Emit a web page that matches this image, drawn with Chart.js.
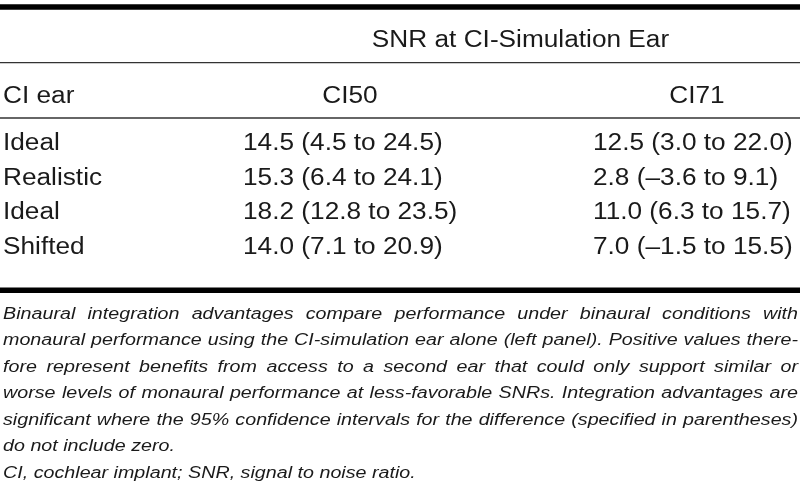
<!DOCTYPE html>
<html>
<head>
<meta charset="utf-8">
<script src="https://cdn.jsdelivr.net/npm/chart.js@4.4.1/dist/chart.umd.min.js"></script>
<style>
  html, body { margin: 0; padding: 0; background: #fff; }
  #wrap { width: 800px; height: 486px; }
</style>
</head>
<body>
<div id="wrap"><canvas id="tableChart" width="800" height="486"></canvas></div>
<script>
// table content
const groupHeader = "SNR at CI-Simulation Ear";
const columnHeaders = ["CI ear", "CI50", "CI71"];
const rowLabels = ["Ideal", "Realistic", "Ideal", "Shifted"];
const ci50Mean = [14.5, 15.3, 18.2, 14.0];
const ci50Low = [4.5, 6.4, 12.8, 7.1];
const ci50High = [24.5, 24.1, 23.5, 20.9];
const ci71Mean = [12.5, 2.8, 11.0, 7.0];
const ci71Low = [3.0, -3.6, 6.3, -1.5];
const ci71High = [22.0, 9.1, 15.7, 15.5];
const noteLines = [
    "Binaural integration advantages compare performance under binaural conditions with",
    "monaural performance using the CI-simulation ear alone (left panel). Positive values there-",
    "fore represent benefits from access to a second ear that could only support similar or",
    "worse levels of monaural performance at less-favorable SNRs. Integration advantages are",
    "significant where the 95% confidence intervals for the difference (specified in parentheses)",
    "do not include zero."
];
const abbrevLine = "CI, cochlear implant; SNR, signal to noise ratio.";

const FONT = '"Liberation Sans", Arial, Helvetica, sans-serif';
const SX = 1.14; // source image is stretched horizontally

function fmt(v) {
    const s = Math.abs(v).toFixed(1);
    return v < 0 ? "\u2013" + s : s;
}

function cell(mean, low, high, i) {
    return fmt(mean[i]) + " (" + fmt(low[i]) + " to " + fmt(high[i]) + ")";
}

function text(ctx, str, x, y, align) {
    ctx.save();
    ctx.translate(x, y);
    ctx.scale(SX, 1);
    ctx.textAlign = align || "left";
    ctx.fillText(str, 0, 0);
    ctx.restore();
}

function justify(ctx, str, x0, x1, y) {
    const words = str.split(" ");
    const widths = words.map(w => ctx.measureText(w).width * SX);
    const total = widths.reduce((a, b) => a + b, 0);
    const gap = (x1 - x0 - total) / (words.length - 1);
    let x = x0;
    words.forEach((w, i) => {
        text(ctx, w, x, y);
        x += widths[i] + gap;
    });
}

function rule(ctx, sx, sy, y, width, color) {
    ctx.save();
    ctx.strokeStyle = color;
    ctx.lineWidth = width;
    ctx.beginPath();
    ctx.moveTo(sx.getPixelForValue(0), sy.getPixelForValue(y));
    ctx.lineTo(sx.getPixelForValue(800), sy.getPixelForValue(y));
    ctx.stroke();
    ctx.restore();
}

const tablePlugin = {
    id: "tablePlugin",
    afterDraw(chart) {
        const ctx = chart.ctx;
        const sx = chart.scales.x;
        const sy = chart.scales.y;
        const px = v => sx.getPixelForValue(v);
        const py = v => sy.getPixelForValue(v);

        ctx.save();
        ctx.fillStyle = "#1a1a1a";
        ctx.textBaseline = "alphabetic";

        rule(ctx, sx, sy, 7, 5.5, "#000");
        rule(ctx, sx, sy, 62.7, 1.3, "#333");
        rule(ctx, sx, sy, 118, 1.3, "#333");
        rule(ctx, sx, sy, 290.2, 5.5, "#000");

        ctx.font = "23px " + FONT;
        text(ctx, groupHeader, px(520.5), py(47.3), "center");
        text(ctx, columnHeaders[0], px(3), py(102.5), "left");
        text(ctx, columnHeaders[1], px(350), py(102.5), "center");
        text(ctx, columnHeaders[2], px(697), py(102.5), "center");

        rowLabels.forEach((lab, i) => {
            const y = py(150.3 + i * 34.5);
            text(ctx, lab, px(3), y, "left");
            text(ctx, cell(ci50Mean, ci50Low, ci50High, i), px(243), y, "left");
            text(ctx, cell(ci71Mean, ci71Low, ci71High, i), px(593), y, "left");
        });

        ctx.font = "italic 17.3px " + FONT;
        noteLines.forEach((line, i) => {
            const y = py(318.5 + i * 26.5);
            if (i < noteLines.length - 1) {
                justify(ctx, line, px(3), px(798), y);
            } else {
                text(ctx, line, px(3), y, "left");
            }
        });
        text(ctx, abbrevLine, px(3), py(318.5 + noteLines.length * 26.5), "left");

        ctx.restore();
    }
};

new Chart(document.getElementById("tableChart").getContext("2d"), {
    type: "scatter",
    data: { datasets: [{ data: [], pointRadius: 0 }] },
    options: {
        responsive: false,
        animation: false,
        layout: { padding: 0 },
        plugins: {
            legend: { display: false },
            tooltip: { enabled: false }
        },
        scales: {
            x: { type: "linear", min: 0, max: 800, display: false },
            y: { type: "linear", min: 0, max: 486, reverse: true, display: false }
        }
    },
    plugins: [tablePlugin]
});
</script>
</body>
</html>
